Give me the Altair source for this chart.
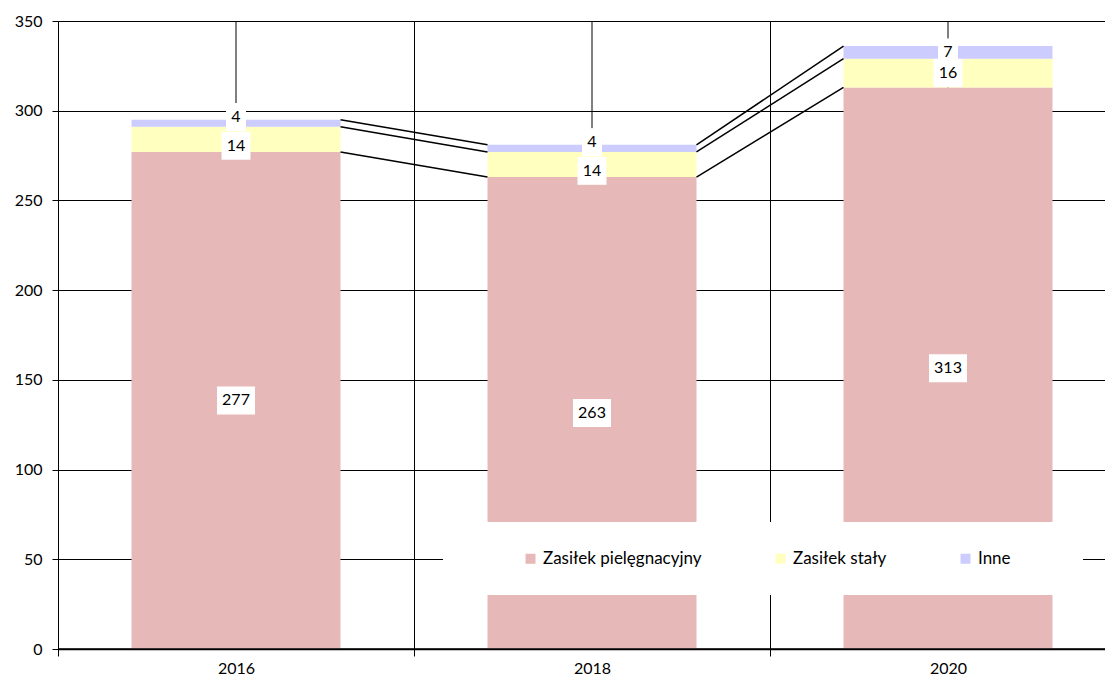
import altair as alt
import pandas as pd

years = ["2016", "2018", "2020"]
series = ["Zasiłek pielęgnacyjny", "Zasiłek stały", "Inne"]
pielegnacyjny = [277, 263, 313]
staly = [14, 14, 16]
inne = [4, 4, 7]
colors = ["#E6B8B7", "#FFFFC0", "#CCCCFF"]
y_ticks = [0, 50, 100, 150, 200, 250, 300, 350]

W, H = 1047, 628
X_RANGE = 1068
FONT = "Lato"
PX = H / 350.0

values = [pielegnacyjny, staly, inne]
rows = []
for i, yr in enumerate(years):
    base = 0
    for s_idx, (s, vals) in enumerate(zip(series, values)):
        v = vals[i]
        rows.append(dict(year=yr, series=s, order=s_idx, value=v,
                         start=base, end=base + v, mid=base + v / 2))
        base += v
df = pd.DataFrame(rows)

# label placement: spread small neighbouring labels apart
df["label_y"] = df["mid"]
for yr in years:
    si = df[(df.year == yr) & (df.order == 1)].index[0]
    ni = df[(df.year == yr) & (df.order == 2)].index[0]
    gap = df.at[ni, "mid"] - df.at[si, "mid"]
    if gap < 10:
        shift = (16 - gap) / 2
        df.at[ni, "label_y"] += shift
        df.at[si, "label_y"] -= shift
df["label"] = df["value"].astype(str)
df["bw"] = 11 + 9 * df["label"].str.len()
df["size"] = df["bw"] ** 2
BH = 28
df["path"] = df["bw"].apply(lambda w: f"M-1,{-BH / w:.4f}L1,{-BH / w:.4f}L1,{BH / w:.4f}L-1,{BH / w:.4f}Z")

conn = []
for i in range(len(years) - 1):
    for s_idx in range(len(series)):
        a = df[(df.year == years[i]) & (df.order == s_idx)].end.iloc[0]
        b = df[(df.year == years[i + 1]) & (df.order == s_idx)].end.iloc[0]
        conn.append(dict(year=years[i], nxt=years[i + 1], top=a, next_top=b))
conn = pd.DataFrame(conn)

xscale = alt.Scale(domain=years, range=[0, X_RANGE], paddingInner=0, paddingOuter=0)
yscale = alt.Scale(domain=[0, 350], nice=False, zero=True)

x_axis = alt.Axis(tickBand="extent", grid=True, gridColor="black", gridOpacity=1,
                  domainColor="black", domainWidth=1.5, tickColor="black", tickSize=7,
                  labelAngle=0, labelFont=FONT, labelFontSize=16, labelColor="black",
                  labelPadding=4)
y_axis = alt.Axis(values=y_ticks, grid=True, gridColor="black", gridOpacity=1,
                  domainColor="black", tickColor="black", tickSize=6,
                  labelFont=FONT, labelFontSize=16, labelColor="black",
                  labelPadding=10)

BAR_FRAC = 0.587

centre_rules = alt.Chart(pd.DataFrame({"year": years, "lo": [0] * 3, "hi": [350] * 3})).mark_rule(
    color="black", strokeWidth=1
).encode(
    x=alt.X("year:N", scale=xscale, title=None, axis=x_axis),
    y=alt.Y("lo:Q", scale=yscale, title=None, axis=y_axis),
    y2="hi:Q",
)

bars = alt.Chart(df).mark_bar(width=alt.RelativeBandSize(BAR_FRAC)).encode(
    x=alt.X("year:N", title=None),
    y=alt.Y("start:Q", title=None),
    y2="end:Q",
    color=alt.Color("series:N", scale=alt.Scale(domain=series, range=colors),
                    legend=alt.Legend(orient="none", legendX=464, legendY=int(H - 50 * PX - 9),
                                      direction="horizontal", title=None,
                                      symbolType="square", symbolSize=100,
                                      symbolStrokeWidth=0, labelFont=FONT,
                                      labelFontSize=17, labelColor="black",
                                      columnPadding=70, labelOffset=4, padding=0)),
)

connectors = alt.Chart(conn).mark_rule(color="black", strokeWidth=1.5).encode(
    x=alt.X("year:N", title=None, bandPosition=0.5 + BAR_FRAC / 2),
    x2=alt.X2("nxt:N", bandPosition=0.5 - BAR_FRAC / 2),
    y=alt.Y("top:Q", title=None),
    y2="next_top:Q",
)

baseline = alt.Chart(pd.DataFrame({"z": [0]})).mark_rule(color="black", strokeWidth=1.5).encode(
    y=alt.Y("z:Q", title=None),
    x=alt.value(0),
    x2=alt.value(X_RANGE),
)

legend_bg = alt.Chart(pd.DataFrame({"z": [0]})).mark_rect(fill="white").encode(
    x=alt.value(385), x2=alt.value(1025),
    y=alt.value(round(H - 70.6 * PX)), y2=alt.value(round(H - 30.1 * PX)),
)

label_boxes = alt.Chart(df).mark_point(filled=True, fill="white", opacity=1, strokeWidth=0).encode(
    x=alt.X("year:N", title=None),
    y=alt.Y("label_y:Q", title=None),
    shape=alt.Shape("path:N", scale=None, legend=None),
    size=alt.Size("size:Q", scale=None, legend=None),
)

label_text = alt.Chart(df).mark_text(font=FONT, fontSize=16, color="black", baseline="middle").encode(
    x=alt.X("year:N", title=None),
    y=alt.Y("label_y:Q", title=None),
    text="label:N",
)

chart = alt.layer(
    centre_rules, bars, connectors, baseline, legend_bg, label_boxes, label_text
).properties(
    width=W, height=H,
    autosize=alt.AutoSizeParams(type="none"),
    padding={"left": 50, "top": 13, "right": 0, "bottom": 32},
    background="white",
).configure_view(stroke=None)

chart.save("out.html", embed_options={"renderer": "svg", "actions": False})
